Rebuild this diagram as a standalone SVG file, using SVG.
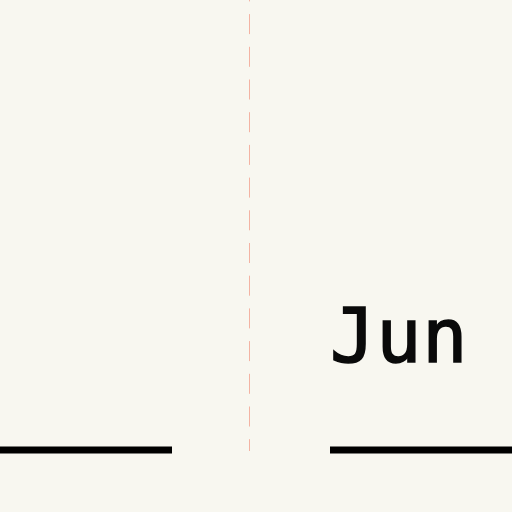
<svg xmlns="http://www.w3.org/2000/svg" width="512" height="512" viewBox="0 0 512 512">
<style>
.bg{fill:#f8f7f0}
.axis{stroke:#f3b3a3;stroke-width:1;stroke-dasharray:20 12.7}
.bar{stroke:#000;stroke-width:7}
.lbl{font-family:"DejaVu Sans Mono",monospace;font-size:75px;fill:#0a0a0a;stroke:#0a0a0a;stroke-width:1.6;letter-spacing:1px}
</style>
<rect class="bg" x="0" y="0" width="512" height="512"/>
<g id="connectors">
<line class="axis" x1="249.5" y1="-18.6" x2="249.5" y2="451"/>
<line class="bar" x1="0" y1="450" x2="172" y2="450"/>
<line class="bar" x1="330" y1="450" x2="512" y2="450"/>
</g>
<g id="label-jun">
<text class="lbl" x="330" y="362">Jun</text>
</g>
</svg>
